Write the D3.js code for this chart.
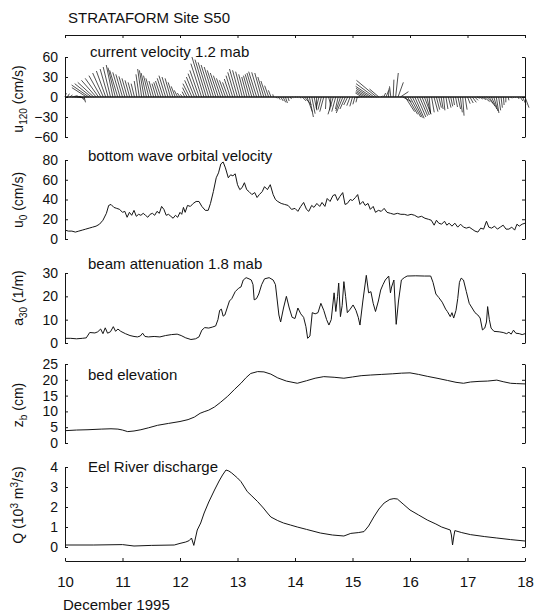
<!DOCTYPE html>
<html><head><meta charset="utf-8">
<script src="https://cdn.jsdelivr.net/npm/d3@7"></script>
<style>
body{margin:0;background:#fff}
text{font-family:"Liberation Sans",Arial,Helvetica,sans-serif;fill:#111}
</style>
</head><body>
<svg id="chart" width="539" height="615"></svg>
<script>
// ---------- DATA ----------
const dayTicks = [10, 11, 12, 13, 14, 15, 16, 17, 18];
const xLabel = "December 1995";
const figTitle = "STRATAFORM Site S50";

// current vectors (1.2 mab), hourly starting 10 Dec 00:00
const stickStart = 10, stickStepDays = 1 / 24;
const u120U = [2,3,4,8,10,9,8,4,2,-22,-26,-25,-24,-22,-20,-18,-16,-14,-12,-11,-10,-11,-12,-11,-10,-9,-8,-7,-6,-5,-4,-5,-6,-7,-8,-8,-8,-7,-6,-7,-8,-9,-10,-9,-8,-7,-6,-5,-4,-3,-4,-7,-10,-11,-12,-13,-14,-16,-18,-17,-16,-15,-14,-13,-12,-11,-10,-9,-8,-9,-10,-11,-12,-11,-10,-9,-8,-9,-10,-11,-12,-11,-10,-9,-8,-6,-4,-1,2,3,4,4,3,2,2,1,1,1,2,6,10,8,6,5,4,0,-4,-5,-6,-1,4,-2,-8,-6,-4,-7,-10,-8,-6,-5,-4,-3,-2,-6,-10,-13,-16,-20,-24,-27,-30,-14,2,3,4,1,-2,1,4,8,12,13,14,15,16,15,14,13,12,11,10,6,2,4,6,5,4,3,2,3,4,3,2,3,4,3,2,3,4,5,6,5,4,5,6,8,10,9,8,6,4,3,2,1,0,1,2,1,0,2,4,5,6];
const u120V = [6,5,3,2,1,-1,-2,-5,-8,14,18,20,22,25,28,32,36,39,42,45,48,44,40,37,34,31,28,25,22,20,24,34,42,40,36,32,28,24,20,22,24,28,32,30,28,22,16,10,6,4,8,14,20,25,30,35,40,50,60,56,52,48,45,40,36,32,28,25,22,27,32,37,42,40,38,34,30,32,34,36,38,37,36,30,24,17,10,4,-2,-4,-6,-8,-9,-6,-3,-1,0,-1,-2,-6,-12,-22,-30,-25,-20,-18,-16,-19,-22,-18,-14,-20,-26,-22,-18,-21,-24,-18,-12,-13,-14,-11,-8,-1,6,8,10,13,16,20,25,12,2,6,10,13,16,26,36,22,8,-7,-22,-26,-30,-31,-32,-30,-28,-27,-26,-25,-24,-23,-22,-19,-16,-18,-20,-18,-16,-14,-12,-15,-18,-23,-28,-19,-10,-9,-8,-5,-2,-3,-4,-7,-10,-14,-18,-21,-24,-20,-16,-12,-8,-5,-2,-1,-1,-3,-6,-11,-16];

// bottom wave orbital velocity (cm/s)
const u0Data = [[10.00,9],[10.06,8],[10.12,8],[10.18,7],[10.24,8],[10.30,9],[10.36,10],[10.42,11],[10.48,12],[10.54,13],[10.60,15],[10.66,19],[10.72,26],[10.76,34],[10.80,35],[10.85,32],[10.90,31],[10.95,30],[11.00,27],[11.04,28],[11.08,22],[11.12,27],[11.16,24],[11.20,29],[11.24,23],[11.28,25],[11.32,24],[11.36,26],[11.40,24],[11.44,22],[11.48,25],[11.52,26],[11.56,24],[11.60,28],[11.64,26],[11.68,33],[11.72,30],[11.76,24],[11.80,25],[11.84,23],[11.88,21],[11.92,24],[11.96,22],[12.00,27],[12.03,25],[12.06,32],[12.09,27],[12.13,34],[12.18,33],[12.23,36],[12.28,38],[12.33,38],[12.38,33],[12.44,29],[12.49,29],[12.53,36],[12.58,48],[12.63,62],[12.67,67],[12.71,76],[12.75,78],[12.79,72],[12.84,62],[12.88,65],[12.92,64],[12.96,66],[13.00,55],[13.04,50],[13.08,52],[13.12,57],[13.16,50],[13.20,48],[13.25,45],[13.30,47],[13.34,42],[13.38,45],[13.43,48],[13.47,53],[13.52,50],[13.57,55],[13.62,45],[13.66,40],[13.70,38],[13.76,36],[13.82,35],[13.88,34],[13.94,30],[14.00,31],[14.05,28],[14.10,33],[14.15,37],[14.20,30],[14.24,28],[14.29,34],[14.33,32],[14.38,36],[14.43,33],[14.47,37],[14.52,33],[14.56,41],[14.61,38],[14.66,44],[14.70,45],[14.74,39],[14.78,43],[14.83,47],[14.87,35],[14.91,36],[14.96,40],[15.00,39],[15.05,42],[15.09,45],[15.13,35],[15.18,38],[15.22,34],[15.27,36],[15.31,30],[15.36,33],[15.40,27],[15.45,29],[15.50,28],[15.55,31],[15.60,27],[15.66,26],[15.72,25],[15.78,26],[15.84,25],[15.90,25],[15.96,24],[16.02,25],[16.08,24],[16.14,22],[16.20,23],[16.26,21],[16.32,20],[16.37,19],[16.42,14],[16.46,19],[16.50,16],[16.55,15],[16.60,18],[16.64,14],[16.68,16],[16.73,13],[16.78,16],[16.83,12],[16.88,15],[16.93,12],[16.98,11],[17.03,12],[17.08,10],[17.13,8],[17.18,7],[17.23,11],[17.28,10],[17.33,18],[17.37,12],[17.42,11],[17.47,13],[17.52,10],[17.57,12],[17.62,14],[17.67,10],[17.72,10],[17.77,12],[17.82,9],[17.86,15],[17.90,13],[17.95,15],[18.00,16]];

// beam attenuation 1.8 mab (1/m)
const a30Data = [[10.00,2],[10.10,2],[10.20,1.8],[10.30,2],[10.37,2.2],[10.43,4.5],[10.52,4.3],[10.57,4.8],[10.62,6],[10.66,4],[10.70,6.5],[10.74,4.2],[10.79,4.8],[10.84,7],[10.88,5],[10.92,6],[10.97,5],[11.05,4],[11.13,3.2],[11.20,2.8],[11.26,2.6],[11.31,3],[11.35,4.2],[11.39,2.8],[11.45,2.6],[11.55,2.8],[11.65,2.6],[11.75,3.2],[11.85,3.6],[11.95,3.8],[12.02,3.2],[12.10,2.2],[12.19,1.5],[12.27,1.8],[12.33,2.6],[12.38,5.5],[12.43,6.6],[12.50,6.4],[12.56,6.8],[12.62,7.3],[12.66,10],[12.69,14],[12.72,14.5],[12.75,11.5],[12.78,12],[12.82,15],[12.86,18],[12.90,19],[12.96,22],[13.02,23.5],[13.06,24],[13.10,27],[13.15,28],[13.20,27.5],[13.24,27],[13.27,25],[13.29,18.5],[13.33,19],[13.37,21],[13.42,25],[13.47,27.5],[13.55,28],[13.62,27],[13.66,25],[13.72,12],[13.75,9],[13.80,15],[13.85,20],[13.90,15],[13.95,11],[14.00,10.5],[14.05,15],[14.10,12.5],[14.15,11],[14.19,7],[14.22,2],[14.26,3],[14.30,13],[14.35,12.5],[14.40,13],[14.45,17],[14.50,14],[14.55,10],[14.59,7.7],[14.63,10],[14.68,21.5],[14.71,13.5],[14.74,20],[14.76,25.7],[14.79,11.3],[14.82,16],[14.85,26.3],[14.88,20],[14.91,13],[14.96,14.5],[15.01,16.3],[15.06,14],[15.10,11],[15.13,7.7],[15.18,18],[15.24,29],[15.28,21.5],[15.32,22],[15.36,17],[15.40,13.5],[15.45,18],[15.49,22.7],[15.53,25],[15.57,27],[15.63,28.7],[15.66,21.5],[15.68,24],[15.72,27],[15.76,8],[15.80,18],[15.85,27],[15.90,28],[15.95,28.7],[16.10,28.8],[16.25,28.7],[16.36,28.7],[16.40,26],[16.45,21],[16.50,19.5],[16.56,17.5],[16.62,14.5],[16.65,13.5],[16.70,11.3],[16.73,13],[16.76,10.7],[16.80,14],[16.83,19],[16.86,26],[16.89,27.8],[16.93,27],[16.98,22],[17.03,17],[17.08,15],[17.13,13],[17.18,12],[17.22,10.7],[17.26,5.6],[17.30,6.4],[17.33,9],[17.35,15.6],[17.38,10],[17.41,6.4],[17.46,5],[17.55,4.8],[17.62,4.5],[17.68,4],[17.72,4.6],[17.76,3.8],[17.80,5.5],[17.84,4.2],[17.90,4],[17.95,3.6],[18.00,4]];

// bed elevation (cm)
const zbData = [[10.00,3.9],[10.20,4.1],[10.40,4.2],[10.63,4.4],[10.80,4.5],[10.92,4.4],[11.00,4.1],[11.09,3.6],[11.20,3.8],[11.32,4.2],[11.45,4.8],[11.61,5.6],[11.80,6.2],[12.00,6.8],[12.14,7.4],[12.25,8.2],[12.35,9.4],[12.42,9.9],[12.50,10.4],[12.60,11.4],[12.70,12.8],[12.83,14.8],[12.95,17],[13.06,18.9],[13.15,20.7],[13.23,22],[13.35,22.6],[13.46,22.5],[13.58,21.8],[13.70,20.6],[13.85,19.6],[14.04,18.9],[14.20,19.7],[14.35,20.5],[14.50,21],[14.68,20.8],[14.85,20.5],[15.00,20.9],[15.15,21.3],[15.31,21.5],[15.50,21.7],[15.70,21.9],[15.85,22.1],[16.00,22.2],[16.15,21.7],[16.30,21.1],[16.47,20.5],[16.65,19.8],[16.80,19.2],[16.93,18.9],[17.05,19.3],[17.20,19.5],[17.35,19.6],[17.51,19.9],[17.62,19.4],[17.75,18.9],[17.85,18.8],[18.00,18.7]];

// Eel River discharge (10^3 m^3/s)
const qData = [[10.00,0.1],[10.50,0.1],[11.00,0.12],[11.20,0.05],[11.50,0.08],[11.90,0.1],[12.00,0.18],[12.10,0.25],[12.16,0.32],[12.20,0.45],[12.24,0.08],[12.30,0.85],[12.36,1.2],[12.42,1.7],[12.50,2.25],[12.60,2.85],[12.68,3.3],[12.74,3.6],[12.80,3.85],[12.85,3.8],[12.90,3.7],[12.94,3.6],[13.00,3.45],[13.06,3.27],[13.12,3.0],[13.17,2.77],[13.25,2.55],[13.35,2.27],[13.45,1.95],[13.52,1.7],[13.58,1.5],[13.70,1.32],[13.80,1.2],[13.92,1.1],[14.04,1.0],[14.20,0.88],[14.44,0.7],[14.65,0.6],[14.85,0.55],[14.97,0.68],[15.10,0.72],[15.20,0.77],[15.28,1.05],[15.37,1.5],[15.46,1.9],[15.55,2.2],[15.65,2.38],[15.72,2.42],[15.78,2.4],[15.88,2.15],[16.00,1.85],[16.15,1.6],[16.30,1.35],[16.45,1.15],[16.55,1.0],[16.70,0.85],[16.72,0.6],[16.74,0.1],[16.76,0.5],[16.78,0.82],[16.90,0.72],[17.05,0.62],[17.30,0.52],[17.51,0.45],[17.75,0.37],[18.00,0.3]];

// tick labels per panel
const u120Ticks = [-60, -30, 0, 30, 60];
const u0Ticks = [0, 20, 40, 60, 80];
const a30Ticks = [0, 10, 20, 30];
const zbTicks = [0, 5, 10, 15, 20, 25];
const qTicks = [0, 1, 2, 3, 4];

// ---------- DRAWING ----------
const svg = d3.select("#chart");
const FONT = '"Liberation Sans",Arial,Helvetica,sans-serif';
const ink = "#151515";
const x = d3.scaleLinear().domain([10, 18]).range([65, 525]);

const panels = [
  {y: d3.scaleLinear([-60, 60], [137, 57]), ticks: u120Ticks, title: "current velocity 1.2 mab", tx: 90, ty: 57,
   label: [["u",0],["120",1],[" (cm/s)",0]], ly: 99},
  {y: d3.scaleLinear([0, 80], [239, 160]), ticks: u0Ticks, title: "bottom wave orbital velocity", tx: 88, ty: 161, data: u0Data,
   label: [["u",0],["0",1],[" (cm/s)",0]], ly: 200},
  {y: d3.scaleLinear([0, 30], [343, 273]), ticks: a30Ticks, title: "beam attenuation 1.8 mab", tx: 88, ty: 269, data: a30Data,
   label: [["a",0],["30",1],[" (1/m)",0]], ly: 298},
  {y: d3.scaleLinear([0, 25], [443, 364]), ticks: zbTicks, title: "bed elevation", tx: 88, ty: 380, data: zbData,
   label: [["z",0],["b",1],[" (cm)",0]], ly: 405},
  {y: d3.scaleLinear([0, 4], [547, 467]), ticks: qTicks, title: "Eel River discharge", tx: 88, ty: 472, data: qData,
   label: [["Q (10",0],["3",2],[" m",0],["3",2],["/s)",0]], ly: 505}
];

const fmt = d => d < 0 ? "\u2212" + Math.abs(d) : String(d);

function styleAxis(g, fs) {
  g.selectAll("path").attr("stroke", ink).attr("stroke-width", 1);
  g.selectAll("line").attr("stroke", ink).attr("stroke-width", 1);
  g.selectAll("text").attr("font-family", FONT).attr("font-size", fs).attr("fill", "#111");
}

panels.forEach((p, i) => {
  const gl = svg.append("g").attr("transform", `translate(${x(10)},0)`)
    .call(d3.axisLeft(p.y).tickValues(p.ticks).tickFormat(fmt).tickSizeInner(-3).tickSizeOuter(0).tickPadding(7));
  styleAxis(gl, 14);
  const gr = svg.append("g").attr("transform", `translate(${x(18)},0)`)
    .call(d3.axisRight(p.y).tickValues(p.ticks).tickFormat("").tickSizeInner(-3).tickSizeOuter(0));
  styleAxis(gr, 14);

  svg.append("text").attr("x", p.tx).attr("y", p.ty).attr("font-size", 15).text(p.title);

  const t = svg.append("text").attr("transform", `translate(23,${p.ly}) rotate(-90)`)
    .attr("text-anchor", "middle").attr("font-size", 14);
  let prev = 0;
  p.label.forEach(([s, kind]) => {
    const shift = kind === 1 ? 4 : kind === 2 ? -5 : 0;
    t.append("tspan").attr("dy", shift - prev).attr("font-size", kind ? 10 : 14).text(s);
    prev = shift;
  });

  if (p.data) {
    svg.append("path").datum(p.data)
      .attr("fill", "none").attr("stroke", ink).attr("stroke-width", 1)
      .attr("stroke-linejoin", "round")
      .attr("d", d3.line().x(d => x(d[0])).y(d => p.y(d[1])));
  }
});

// stick plot for current velocity
const p1 = panels[0];
const k = Math.abs(p1.y(1) - p1.y(0)); // px per cm/s (same scale on both axes)
svg.append("g").selectAll("line").data(u120U.map((u, i) => ({t: stickStart + i * stickStepDays, u, v: u120V[i]})))
  .join("line")
  .attr("x1", d => x(d.t)).attr("y1", p1.y(0))
  .attr("x2", d => x(d.t) + d.u * k).attr("y2", d => p1.y(d.v))
  .attr("stroke", ink).attr("stroke-width", 0.75);
svg.append("line").attr("x1", x(10)).attr("x2", x(18)).attr("y1", p1.y(0)).attr("y2", p1.y(0))
  .attr("stroke", ink).attr("stroke-width", 1.5);

// top frame line
const gt = svg.append("g").attr("transform", "translate(0,35)")
  .call(d3.axisTop(x).tickValues(dayTicks).tickFormat("").tickSizeInner(-3).tickSizeOuter(0));
styleAxis(gt, 15);
// bottom axis
const gb = svg.append("g").attr("transform", "translate(0,561)")
  .call(d3.axisBottom(x).tickValues(dayTicks).tickFormat(d3.format("d")).tickSizeInner(-3).tickSizeOuter(0).tickPadding(15));
styleAxis(gb, 15);

svg.append("text").attr("x", 68).attr("y", 23).attr("font-size", 15).text(figTitle);
svg.append("text").attr("x", 63).attr("y", 610).attr("font-size", 15).text(xLabel);
</script>
</body></html>
